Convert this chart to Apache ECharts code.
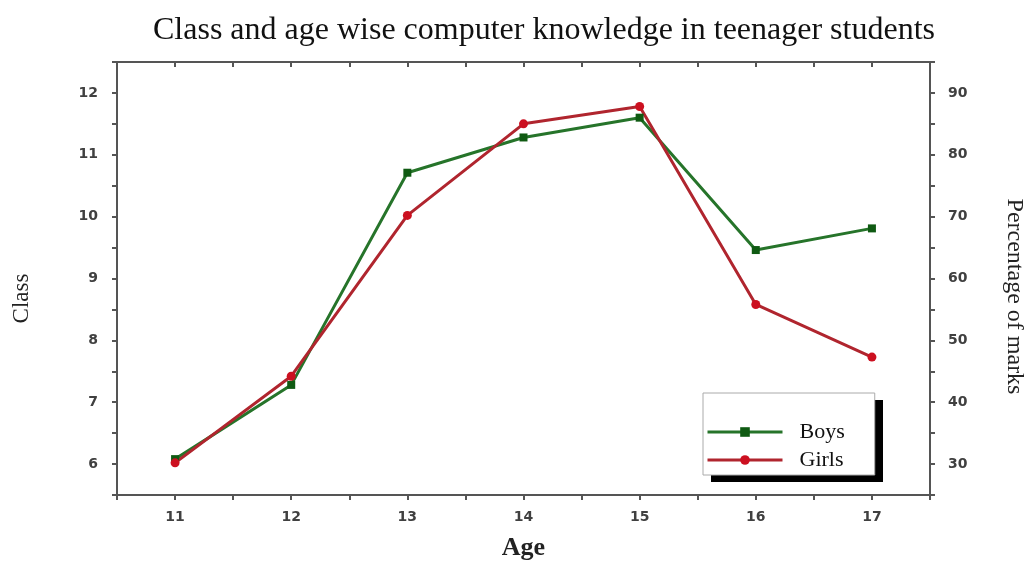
<!DOCTYPE html>
<html>
<head>
<meta charset="utf-8">
<script src="https://cdn.jsdelivr.net/npm/echarts@6/dist/echarts.min.js"></script>
<style>
html,body{margin:0;padding:0;background:#fff;}
#chart{width:1032px;height:566px;}
</style>
</head>
<body>
<div id="chart"></div>
<script>
var titleText = 'Class and age wise computer knowledge in teenager students';
var ages = [11, 12, 13, 14, 15, 16, 17];
var boys = [6.08, 7.28, 10.71, 11.28, 11.6, 9.46, 9.81];
var girls = [6.02, 7.42, 10.02, 11.5, 11.78, 8.58, 7.73];
var seriesNames = ['Boys', 'Girls'];
var leftName = 'Class';
var rightName = 'Percentage of marks';
var xName = 'Age';

function pairs(ys) { return ages.map(function (a, i) { return [a, ys[i]]; }); }

var axisColor = '#555';
var labelStyle = { color: '#404040', fontFamily: 'DejaVu Sans', fontWeight: 'bold', fontSize: 14 };
var serif = 'Liberation Serif';
var legendBox = { left: 703, top: 393, width: 172, height: 82 };

var chart = echarts.init(document.getElementById('chart'), null, { renderer: 'canvas' });
chart.setOption({
  backgroundColor: '#fff',
  animation: false,
  title: {
    text: titleText,
    left: 539, top: 10, textAlign: 'center',
    textStyle: { fontFamily: serif, fontSize: 32, fontWeight: 'normal', color: '#111' }
  },
  grid: { left: 117, right: 102, top: 62, bottom: 71, containLabel: false, outerBoundsMode: 'none' },
  graphic: [{
    type: 'rect', z: 1,
    left: legendBox.left + 8, top: legendBox.top + 7,
    shape: { width: legendBox.width, height: legendBox.height },
    style: { fill: '#000' }
  }],
  legend: {
    left: legendBox.left, top: legendBox.top,
    orient: 'vertical',
    data: seriesNames,
    itemWidth: 75, itemHeight: 12, itemGap: 6,
    padding: [28, 30, 4, 3],
    backgroundColor: '#fff',
    borderColor: '#aaa', borderWidth: 1, borderRadius: 0,
    lineStyle: { width: 3 },
    textStyle: { fontFamily: serif, fontSize: 22, color: '#111', padding: [0, 0, 0, 12] }
  },
  xAxis: [{
    type: 'value', min: 10.5, max: 17.5, interval: 0.5,
    name: xName, nameLocation: 'middle', nameGap: 40,
    nameTextStyle: { fontFamily: serif, fontSize: 26, fontWeight: 'bold', color: '#222' },
    axisLine: { show: true, lineStyle: { color: axisColor, width: 2 } },
    axisTick: { show: true, inside: false, length: 5, lineStyle: { color: axisColor, width: 2 } },
    axisLabel: Object.assign({ margin: 15, formatter: function (v) { return v % 1 === 0 ? String(v) : ''; } }, labelStyle),
    splitLine: { show: false }
  }, {
    type: 'value', min: 10.5, max: 17.5, interval: 0.5, position: 'top',
    axisLine: { show: true, lineStyle: { color: axisColor, width: 2 } },
    axisTick: { show: true, inside: true, length: 5, lineStyle: { color: axisColor, width: 2 } },
    axisLabel: { show: false },
    splitLine: { show: false }
  }],
  yAxis: [{
    type: 'value', min: 5.5, max: 12.5, interval: 0.5, position: 'left',
    name: leftName, nameLocation: 'middle', nameGap: 84,
    nameTextStyle: { fontFamily: serif, fontSize: 23, color: '#222', padding: [0, 40, 0, 0] },
    axisLine: { show: true, lineStyle: { color: axisColor, width: 2 } },
    axisTick: { show: true, inside: false, length: 5, lineStyle: { color: axisColor, width: 2 } },
    axisLabel: Object.assign({ margin: 19, formatter: function (v) { return v % 1 === 0 ? String(v) : ''; } }, labelStyle),
    splitLine: { show: false }
  }, {
    type: 'value', min: 25, max: 95, interval: 5, position: 'right',
    name: rightName, nameLocation: 'middle', nameGap: 72, nameRotate: -90,
    nameTextStyle: { fontFamily: serif, fontSize: 24, color: '#222', padding: [0, 0, 0, 36] },
    axisLine: { show: true, lineStyle: { color: axisColor, width: 2 } },
    axisTick: { show: true, inside: false, length: 5, lineStyle: { color: axisColor, width: 2 } },
    axisLabel: Object.assign({ margin: 18, formatter: function (v) { return v % 10 === 0 ? String(v) : ''; } }, labelStyle),
    splitLine: { show: false }
  }],
  series: [{
    name: seriesNames[0], type: 'line', xAxisIndex: 0, yAxisIndex: 0,
    data: pairs(boys),
    symbol: 'rect', symbolSize: 8,
    lineStyle: { color: '#26742a', width: 3 },
    itemStyle: { color: '#0f5a12' }
  }, {
    name: seriesNames[1], type: 'line', xAxisIndex: 0, yAxisIndex: 0,
    data: pairs(girls),
    symbol: 'circle', symbolSize: 9,
    lineStyle: { color: '#b0252e', width: 3 },
    itemStyle: { color: '#cc1020' }
  }]
});
</script>
</body>
</html>
